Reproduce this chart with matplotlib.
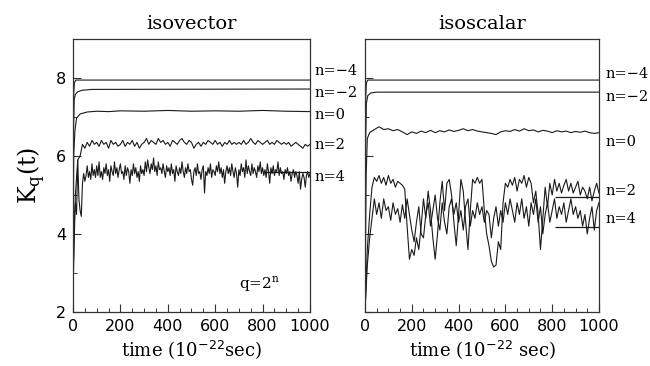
import numpy as np
import matplotlib
matplotlib.use('Agg')
import matplotlib.pyplot as plt
import matplotlib.ticker as ticker

# ---- data ----
t10 = list(range(0, 1001, 10))
t5 = list(range(0, 1001, 5))

# isovector
iv_m4_t = [0, 3, 6, 12, 1000]
iv_m4 = [3.0, 7.6, 7.88, 7.95, 7.95]
iv_m2_t = [0, 2, 5, 10, 20, 40, 80, 1000]
iv_m2 = [3.0, 6.8, 7.45, 7.58, 7.65, 7.69, 7.71, 7.72]
iv_0_t = [0, 3, 8, 15, 30, 60, 100, 150, 200, 300, 400, 500, 600, 700, 800, 900, 1000]
iv_0 = [2.8, 6.0, 6.64, 6.97, 7.08, 7.13, 7.15, 7.14, 7.16, 7.15, 7.17, 7.15, 7.16, 7.15, 7.17, 7.15, 7.14]
iv_2 = [2.5, 5.0, 5.9, 6.0, 6.3, 6.2, 6.35, 6.25, 6.4, 6.3,
        6.35, 6.25, 6.4, 6.3, 6.35, 6.2, 6.4, 6.3, 6.35, 6.25,
        6.3, 6.4, 6.25, 6.35, 6.3, 6.4, 6.25, 6.35, 6.2, 6.3,
        6.35, 6.45, 6.3, 6.4, 6.35, 6.3, 6.45, 6.35, 6.4, 6.3,
        6.35, 6.25, 6.4, 6.35, 6.3, 6.4, 6.45, 6.35, 6.3, 6.4,
        6.35, 6.2, 6.3, 6.35, 6.25, 6.35, 6.3, 6.4, 6.35, 6.3,
        6.4, 6.3, 6.35, 6.25, 6.35, 6.3, 6.4, 6.3, 6.35, 6.3,
        6.35, 6.3, 6.4, 6.3, 6.35, 6.45, 6.35, 6.3, 6.4, 6.35,
        6.3, 6.35, 6.4, 6.3, 6.35, 6.3, 6.4, 6.35, 6.3, 6.35,
        6.3, 6.35, 6.25, 6.3, 6.35, 6.3, 6.25, 6.2, 6.3, 6.25,
        6.3]
iv_4 = [2.6, 4.3, 4.8, 4.5, 5.9, 4.9, 4.6, 4.45, 5.3, 5.55, 5.35, 5.5, 5.75, 5.45, 5.6, 5.4, 5.8, 5.5, 5.65, 5.45,
        5.75, 5.5, 5.85, 5.45, 5.6, 5.4, 5.7, 5.55, 5.8, 5.5, 5.65, 5.35, 5.75, 5.6, 5.5, 5.85, 5.55, 5.7, 5.45, 5.65,
        5.8, 5.55, 5.6, 5.4, 5.75, 5.5, 5.7, 5.6, 5.3, 5.65, 5.5, 5.8, 5.55, 5.7, 5.45, 5.6, 5.35, 5.75, 5.55, 5.65,
        5.5, 5.85, 5.6, 5.9, 5.7, 5.55, 5.8, 5.65, 5.95, 5.6, 5.75, 5.5, 5.85, 5.65, 5.7, 5.55, 5.8, 5.6, 5.45, 5.75,
        5.6, 5.7, 5.5, 5.8, 5.55, 5.65, 5.35, 5.75, 5.6, 5.5, 5.7, 5.55, 5.85, 5.6, 5.45, 5.7, 5.55, 5.8, 5.6, 5.65,
        5.4, 5.25, 5.6, 5.7, 5.5, 5.8, 5.55, 5.6, 5.4, 5.65, 5.75, 5.05, 5.6, 5.5, 5.7, 5.55, 5.8, 5.45, 5.65, 5.6,
        5.5, 5.75, 5.6, 5.85, 5.55, 5.7, 5.45, 5.65, 5.3, 5.6, 5.75, 5.55, 5.7, 5.5, 5.8, 5.6, 5.45, 5.7, 5.55, 5.2,
        5.65, 5.5, 5.8, 5.6, 5.7, 5.45, 5.9, 5.55, 5.75, 5.6, 5.5, 5.8, 5.55, 5.7, 5.6, 5.45, 5.75, 5.6, 5.85, 5.55,
        5.7, 5.5, 5.65, 5.45, 5.8, 5.6, 5.3, 5.7, 5.55, 5.75, 5.5, 5.65, 5.6, 5.85, 5.5, 5.7, 5.55, 5.6, 5.4, 5.65,
        5.55, 5.7, 5.5, 5.6, 5.35, 5.55, 5.65, 5.45, 5.6, 5.5, 5.3, 5.6, 5.15, 5.4, 5.55, 5.45, 5.2, 5.5, 5.6, 5.45,
        5.55]
iv_4_avg = 5.6

# isoscalar
is_m4_t = [0, 3, 6, 12, 1000]
is_m4 = [2.0, 7.5, 7.88, 7.95, 7.95]
is_m2_t = [0, 3, 6, 12, 25, 50, 1000]
is_m2 = [2.0, 6.5, 7.35, 7.55, 7.62, 7.64, 7.64]
is_0_t = [0, 5, 10] + list(range(20, 1001, 20))
is_0 = [2.0, 5.5, 6.45, 6.6, 6.68, 6.75, 6.68, 6.7, 6.65, 6.68, 6.62, 6.55, 6.62,
        6.58, 6.64, 6.6, 6.66, 6.6, 6.65, 6.62, 6.67, 6.63, 6.66, 6.7, 6.65, 6.68,
        6.64, 6.62, 6.6, 6.58, 6.55, 6.62, 6.65, 6.63, 6.68, 6.64, 6.7, 6.65, 6.67,
        6.62, 6.66, 6.64, 6.6, 6.65, 6.62, 6.64, 6.6, 6.63, 6.61, 6.64, 6.6, 6.58, 6.6]
is_2 = [2.0, 3.6, 4.5, 5.2, 5.45, 5.35, 5.5, 5.3, 5.45, 5.25,
        5.5, 5.3, 5.4, 5.2, 5.35, 5.3, 5.25, 5.15, 4.2, 3.35,
        3.6, 3.45, 3.9, 3.6, 4.2, 4.9, 4.4, 5.1, 4.6, 3.9,
        3.35, 4.0, 4.8, 5.35, 4.6, 5.3, 5.4, 5.0, 4.3, 3.7,
        4.5, 5.4, 5.1, 4.3, 3.6, 4.6, 5.4, 5.3, 5.45, 5.3,
        5.4, 4.6, 4.0, 3.7, 3.3, 3.15, 3.2, 3.8, 3.6, 4.8,
        5.3, 5.2, 5.4, 5.25, 5.45, 5.1, 5.4, 5.3, 5.5, 5.2,
        5.45, 5.3, 4.8, 5.1, 4.5, 3.6, 4.4, 5.2, 4.7, 5.3,
        5.0, 5.4, 5.1, 5.3, 5.05, 5.25, 5.4, 5.1, 5.3, 5.05,
        5.2, 5.35, 5.0, 5.2, 5.1, 4.9, 5.2, 4.85, 5.1, 5.3,
        5.05]
is_4 = [2.0, 3.2, 3.9, 4.4, 4.9, 4.5, 4.8, 4.4, 4.9, 4.6,
        4.7, 4.35, 4.8, 4.5, 4.65, 4.3, 4.75, 4.4, 4.9, 4.5,
        4.1, 3.8, 4.3, 4.7, 4.0, 3.9, 4.5, 4.8, 4.2, 4.6,
        5.0, 4.4, 4.1, 4.8, 4.3, 4.0, 4.7, 4.9, 4.5, 4.8,
        4.3, 4.6, 4.1, 4.7, 4.9, 4.2, 4.6, 4.4, 4.8, 4.5,
        4.7, 4.3, 4.6, 4.5, 3.9, 4.4, 4.7, 4.2, 4.6, 4.3,
        4.8, 4.5, 4.9, 4.6, 4.3, 4.8, 4.5, 4.9, 4.4, 4.7,
        4.2, 4.8, 4.5, 4.9, 4.3, 4.7, 4.0, 4.5, 4.8, 4.3,
        4.6, 4.9, 4.4, 4.7, 4.5, 4.8, 4.3, 4.6, 4.9, 4.5,
        4.7, 4.4, 4.6, 4.2, 4.5, 4.0, 4.4, 4.7, 4.1, 4.6,
        4.8]
is_2_avg = 4.95
is_4_avg = 4.17
avg_from = 800

iv_labels = [('n=−4', 8.19), ('n=−2', 7.62), ('n=0', 7.05), ('n=2', 6.28), ('n=4', 5.45)]
is_labels = [('n=−4', 8.1), ('n=−2', 7.52), ('n=0', 6.37), ('n=2', 5.1), ('n=4', 4.38)]

serif = 'DejaVu Serif'
lc = '#1a1a1a'

fig = plt.figure(figsize=(6.5, 3.66), dpi=100)
ax1 = fig.add_axes([0.1123, 0.148, 0.3646, 0.745])
ax2 = fig.add_axes([0.5615, 0.148, 0.36, 0.745])

def style(ax):
    ax.set_xlim(0, 1000)
    ax.set_ylim(2, 9)
    ax.xaxis.set_major_locator(ticker.MultipleLocator(200))
    ax.xaxis.set_minor_locator(ticker.MultipleLocator(50))
    ax.yaxis.set_major_locator(ticker.MultipleLocator(2))
    ax.yaxis.set_minor_locator(ticker.MultipleLocator(1))
    ax.tick_params(which='both', direction='in', top=False, right=False, labelsize=11.5, color='#333333')
    ax.tick_params(which='major', length=6, width=0.8, pad=5)
    ax.tick_params(which='minor', length=3, width=0.7)
    for s in ax.spines.values():
        s.set_linewidth(0.9)
        s.set_color('#333333')

style(ax1)
style(ax2)
ax2.set_yticklabels([])

ax1.plot(iv_m4_t, iv_m4, color=lc, lw=0.8)
ax1.plot(iv_m2_t, iv_m2, color=lc, lw=0.8)
ax1.plot(iv_0_t, iv_0, color=lc, lw=0.8)
ax1.plot(t10, iv_2, color=lc, lw=0.8)
ax1.plot(t5, iv_4, color=lc, lw=0.8)
ax1.hlines(iv_4_avg, avg_from, 1000, color=lc, lw=0.9)

ax2.plot(is_m4_t, is_m4, color=lc, lw=0.8)
ax2.plot(is_m2_t, is_m2, color=lc, lw=0.8)
ax2.plot(is_0_t, is_0, color=lc, lw=0.8)
ax2.plot(t10, is_2, color=lc, lw=0.8)
ax2.plot(t10, is_4, color=lc, lw=0.8)
ax2.hlines([is_2_avg, is_4_avg], avg_from + 10, 1000, color=lc, lw=0.9)

for txt, y in iv_labels:
    ax1.text(1020, y, txt, family=serif, fontsize=10.5, va='center', ha='left', clip_on=False)
for txt, y in is_labels:
    ax2.text(1030, y, txt, family=serif, fontsize=10.5, va='center', ha='left', clip_on=False)

ax1.set_title('isovector', family=serif, fontsize=14, pad=7)
ax2.set_title('isoscalar', family=serif, fontsize=14, pad=7)
ax1.set_xlabel('time (10$^{-22}$sec)', family=serif, fontsize=13, labelpad=3)
ax2.set_xlabel('time (10$^{-22}$ sec)', family=serif, fontsize=13, labelpad=3)
ax1.set_ylabel('K$_\\mathregular{q}$(t)', family=serif, fontsize=17, labelpad=6)
ax1.text(700, 2.7, 'q=2$^\\mathregular{n}$', family=serif, fontsize=11, ha='left', va='center')

fig.savefig('out.png', dpi=100)
